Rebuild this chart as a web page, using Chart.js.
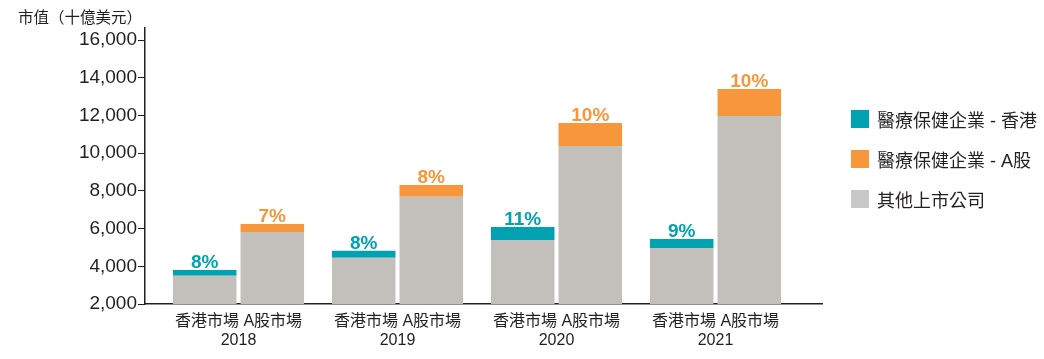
<!DOCTYPE html>
<html>
<head>
<meta charset="utf-8">
<script src="https://cdn.jsdelivr.net/npm/chart.js@4"></script>
<style>
  html, body { margin: 0; padding: 0; background: #fff; }
  .wrap { position: relative; width: 1044px; height: 359px; font-family: "Liberation Sans", "Noto Sans CJK TC", sans-serif; color: #231f20; }
  #chart { position: absolute; left: 0; top: 0; }
  .unit { position: absolute; left: 18px; top: 6px; font-size: 15.5px; font-family: "Noto Sans CJK TC", sans-serif; line-height: 20px; }
  .legend { position: absolute; left: 851px; top: 110px; }
  .legend-row { display: flex; align-items: center; height: 18px; margin-bottom: 22px; font-size: 18px; white-space: nowrap; }
  .legend-box { width: 18px; height: 18px; margin-right: 8px; }
</style>
</head>
<body>
<div class="wrap">
  <canvas id="chart" width="1044" height="359"></canvas>
  <div class="unit">市值（十億美元）</div>
  <div class="legend" id="legend"></div>
</div>
<script>
const years = ["2018", "2019", "2020", "2021"];
const marketLabel = "香港市場 A股市場";
const yTicks = [2000, 4000, 6000, 8000, 10000, 12000, 14000, 16000];
const otherHK = [3500, 4450, 5400, 4970];
const healthHK = [310, 370, 680, 480];
const otherA = [5820, 7690, 10380, 11970];
const healthA = [430, 620, 1220, 1430];
const pctHK = ["8%", "8%", "11%", "9%"];
const pctA = ["7%", "8%", "10%", "10%"];

const TEAL = "#00a2b1";
const ORANGE = "#f7963a";
const GREY = "#c3bfbb";
const INK = "#231f20";

// percentages above each healthcare block
const pctLabels = {
  id: "pctLabels",
  afterDatasetsDraw(chart) {
    const ctx = chart.ctx;
    ctx.save();
    ctx.font = "bold 19px 'Liberation Sans', Arial, sans-serif";
    ctx.textAlign = "center";
    ctx.textBaseline = "alphabetic";
    [[1, pctHK, TEAL], [3, pctA, ORANGE]].forEach(([idx, texts, color]) => {
      ctx.fillStyle = color;
      chart.getDatasetMeta(idx).data.forEach((bar, i) => {
        ctx.fillText(texts[i], bar.x, bar.y - 2);
      });
    });
    ctx.restore();
  },
};

// x axis line runs past the first/last year group
const axisInset = {
  id: "axisInset",
  afterLayout(chart) {
    const x = chart.scales.x;
    x._startPixel = x.left + 14;
    x._endPixel = x.right - 27;
    x._length = x._endPixel - x._startPixel;
  },
};

new Chart(document.getElementById("chart"), {
  type: "bar",
  data: {
    labels: years.map((y) => [marketLabel, y]),
    datasets: [
      { label: "其他上市公司", data: otherHK, backgroundColor: GREY, stack: "hk" },
      { label: "醫療保健企業 - 香港", data: healthHK, backgroundColor: TEAL, stack: "hk" },
      { label: "其他上市公司", data: otherA, backgroundColor: GREY, stack: "a" },
      { label: "醫療保健企業 - A股", data: healthA, backgroundColor: ORANGE, stack: "a" },
    ],
  },
  options: {
    responsive: false,
    animation: false,
    categoryPercentage: 0.85,
    barPercentage: 0.94,
    layout: { padding: { left: 0, right: 222, top: 28, bottom: 0 } },
    plugins: { legend: { display: false }, tooltip: { enabled: false } },
    scales: {
      x: {
        stacked: true,
        grid: { display: false, drawTicks: false },
        border: { color: INK, width: 1.5 },
        ticks: {
          color: INK,
          padding: 8,
          font: { size: 16, family: "'Liberation Sans', 'Noto Sans CJK TC', sans-serif", lineHeight: 1.2 },
          maxRotation: 0,
          autoSkip: false,
        },
        afterFit: (s) => { s.height = 55; },
      },
      y: {
        stacked: true,
        min: 2000,
        max: 16640,
        grid: { display: true, drawOnChartArea: false, drawTicks: true, tickLength: 7, color: INK, lineWidth: 1 },
        border: { color: INK, width: 1.5 },
        ticks: {
          color: INK,
          padding: 1,
          autoSkip: false,
          font: { size: 19, family: "'Liberation Sans', Arial, sans-serif" },
          callback: (v) => v.toLocaleString("en-US"),
        },
        afterBuildTicks: (s) => { s.ticks = yTicks.map((v) => ({ value: v })); },
        afterFit: (s) => { s.width = 145; },
      },
    },
  },
  plugins: [axisInset, pctLabels],
});

const legendItems = [
  ["醫療保健企業 - 香港", TEAL],
  ["醫療保健企業 - A股", ORANGE],
  ["其他上市公司", "#c8c8c8"],
];
document.getElementById("legend").innerHTML = legendItems
  .map(([label, color]) => `<div class="legend-row"><span class="legend-box" style="background:${color}"></span>${label}</div>`)
  .join("");
</script>
</body>
</html>
